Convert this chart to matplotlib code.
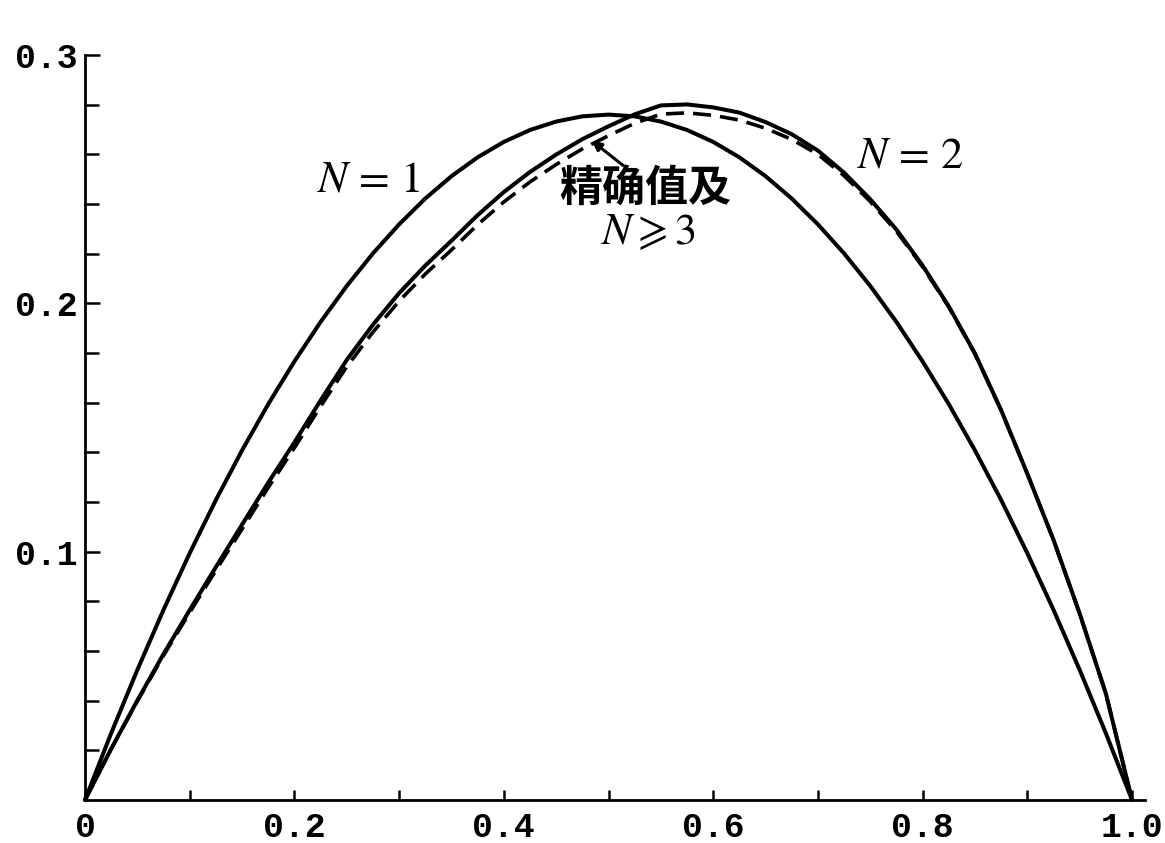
import matplotlib
matplotlib.use('Agg')
import matplotlib.pyplot as plt
from matplotlib.ticker import FixedLocator, NullFormatter

# ---- data ----
x_vals = [0.0, 0.025, 0.05, 0.075, 0.10, 0.125, 0.15, 0.175, 0.20, 0.225, 0.25,
          0.275, 0.30, 0.325, 0.35, 0.375, 0.40, 0.425, 0.45, 0.475, 0.50,
          0.525, 0.55, 0.575, 0.60, 0.625, 0.65, 0.675, 0.70, 0.725, 0.75,
          0.775, 0.80, 0.825, 0.85, 0.875, 0.90, 0.925, 0.95, 0.975, 1.0]
n1_vals = [0.0, 0.0269, 0.0524, 0.0766, 0.0994, 0.1208, 0.1408, 0.1594, 0.1766, 0.1925, 0.2070,
           0.2201, 0.2318, 0.2422, 0.2512, 0.2588, 0.2650, 0.2698, 0.2732, 0.2753, 0.2760,
           0.2753, 0.2732, 0.2698, 0.2650, 0.2588, 0.2512, 0.2422, 0.2318, 0.2201, 0.2070,
           0.1925, 0.1766, 0.1594, 0.1408, 0.1208, 0.0994, 0.0766, 0.0524, 0.0269, 0.0]
n2_vals = [0.0, 0.0206, 0.0401, 0.0588, 0.0765, 0.0938, 0.1109, 0.1278, 0.1440, 0.1609, 0.1772,
           0.1914, 0.2041, 0.2152, 0.2252, 0.2355, 0.2448, 0.2529, 0.2599, 0.2661, 0.2713,
           0.2761, 0.2797, 0.2801, 0.2789, 0.2768, 0.2730, 0.2681, 0.2615, 0.2526, 0.2419,
           0.2297, 0.2152, 0.1988, 0.1798, 0.1570, 0.1314, 0.1048, 0.0751, 0.0429, 0.0]
exact_vals = [0.0, 0.0206, 0.0398, 0.0582, 0.0755, 0.0925, 0.1091, 0.1258, 0.1418, 0.1585, 0.1745,
              0.1884, 0.2009, 0.2118, 0.2215, 0.2317, 0.2408, 0.2489, 0.2559, 0.2622, 0.2675,
              0.2725, 0.2762, 0.2767, 0.2757, 0.2738, 0.2705, 0.2660, 0.2600, 0.2514, 0.2410,
              0.2290, 0.2147, 0.1985, 0.1796, 0.1569, 0.1313, 0.1047, 0.0750, 0.0429, 0.0]

xtick_pos = [0.0, 0.2, 0.4, 0.6, 0.8, 1.0]
xtick_labels = ['0', '0.2', '0.4', '0.6', '0.8', '1.0']
xminor_pos = [0.1, 0.3, 0.5, 0.7, 0.9]
ytick_pos = [0.1, 0.2, 0.3]
ytick_labels = ['0.1', '0.2', '0.3']
yminor_pos = [0.02, 0.04, 0.06, 0.08, 0.12, 0.14, 0.16, 0.18, 0.22, 0.24, 0.26, 0.28]

label_n1 = r'$N$ = 1'
label_n2 = r'$N$ = 2'
label_exact = '精确值及'
label_exact2 = r'$N\geqslant 3$'

plt.rcParams['mathtext.fontset'] = 'stix'

fig = plt.figure(figsize=(11.65, 8.43), dpi=100)
ax = fig.add_axes([85 / 1165, 43 / 843, 1060 / 1165, 745 / 843])

ax.plot(x_vals, n1_vals, color='black', lw=2.9, solid_capstyle='round',
        solid_joinstyle='round', clip_on=False)
ax.plot(x_vals, n2_vals, color='black', lw=2.9, solid_capstyle='round',
        solid_joinstyle='round', clip_on=False)
ax.plot(x_vals, exact_vals, color='black', lw=2.6, linestyle=(0, (5, 2.5)), clip_on=False)

ax.set_xlim(0, 1.0124)
ax.set_ylim(0, 0.3)

for s in ['top', 'right']:
    ax.spines[s].set_visible(False)
for s in ['left', 'bottom']:
    ax.spines[s].set_linewidth(2.0)
ax.spines['left'].set_bounds(0, 0.3)

ax.xaxis.set_major_locator(FixedLocator(xtick_pos))
ax.xaxis.set_minor_locator(FixedLocator(xminor_pos))
ax.yaxis.set_major_locator(FixedLocator(ytick_pos))
ax.yaxis.set_minor_locator(FixedLocator(yminor_pos))
ax.set_xticklabels(xtick_labels)
ax.set_yticklabels(ytick_labels)
ax.xaxis.set_minor_formatter(NullFormatter())
ax.yaxis.set_minor_formatter(NullFormatter())

ax.tick_params(axis='both', which='both', direction='in', width=1.8, color='black')
ax.tick_params(axis='y', which='major', length=11, pad=5)
ax.tick_params(axis='y', which='minor', length=10)
ax.tick_params(axis='x', which='major', length=7, pad=8)
ax.tick_params(axis='x', which='minor', length=7)

for lab in ax.get_xticklabels() + ax.get_yticklabels():
    lab.set_fontfamily('Liberation Mono')
    lab.set_fontweight('bold')
    lab.set_fontsize(25)

ax.text(0.271, 0.249, label_n1, fontsize=32, family='STIXGeneral',
        ha='center', va='center')
ax.text(0.788, 0.259, label_n2, fontsize=32, family='STIXGeneral',
        ha='center', va='center')
ax.text(0.535, 0.246, label_exact, fontsize=31, family=['Noto Sans CJK SC', 'DejaVu Sans'],
        fontweight='bold', ha='center', va='center')
ax.text(0.538, 0.228, label_exact2, fontsize=32, family='STIXGeneral',
        ha='center', va='center')

ax.annotate('', xy=(0.484, 0.2655), xytext=(0.514, 0.2555),
            arrowprops=dict(arrowstyle='-|>', lw=2.2, color='black',
                            mutation_scale=14, shrinkA=0, shrinkB=0))

fig.savefig('out.png', dpi=100, facecolor='white')
